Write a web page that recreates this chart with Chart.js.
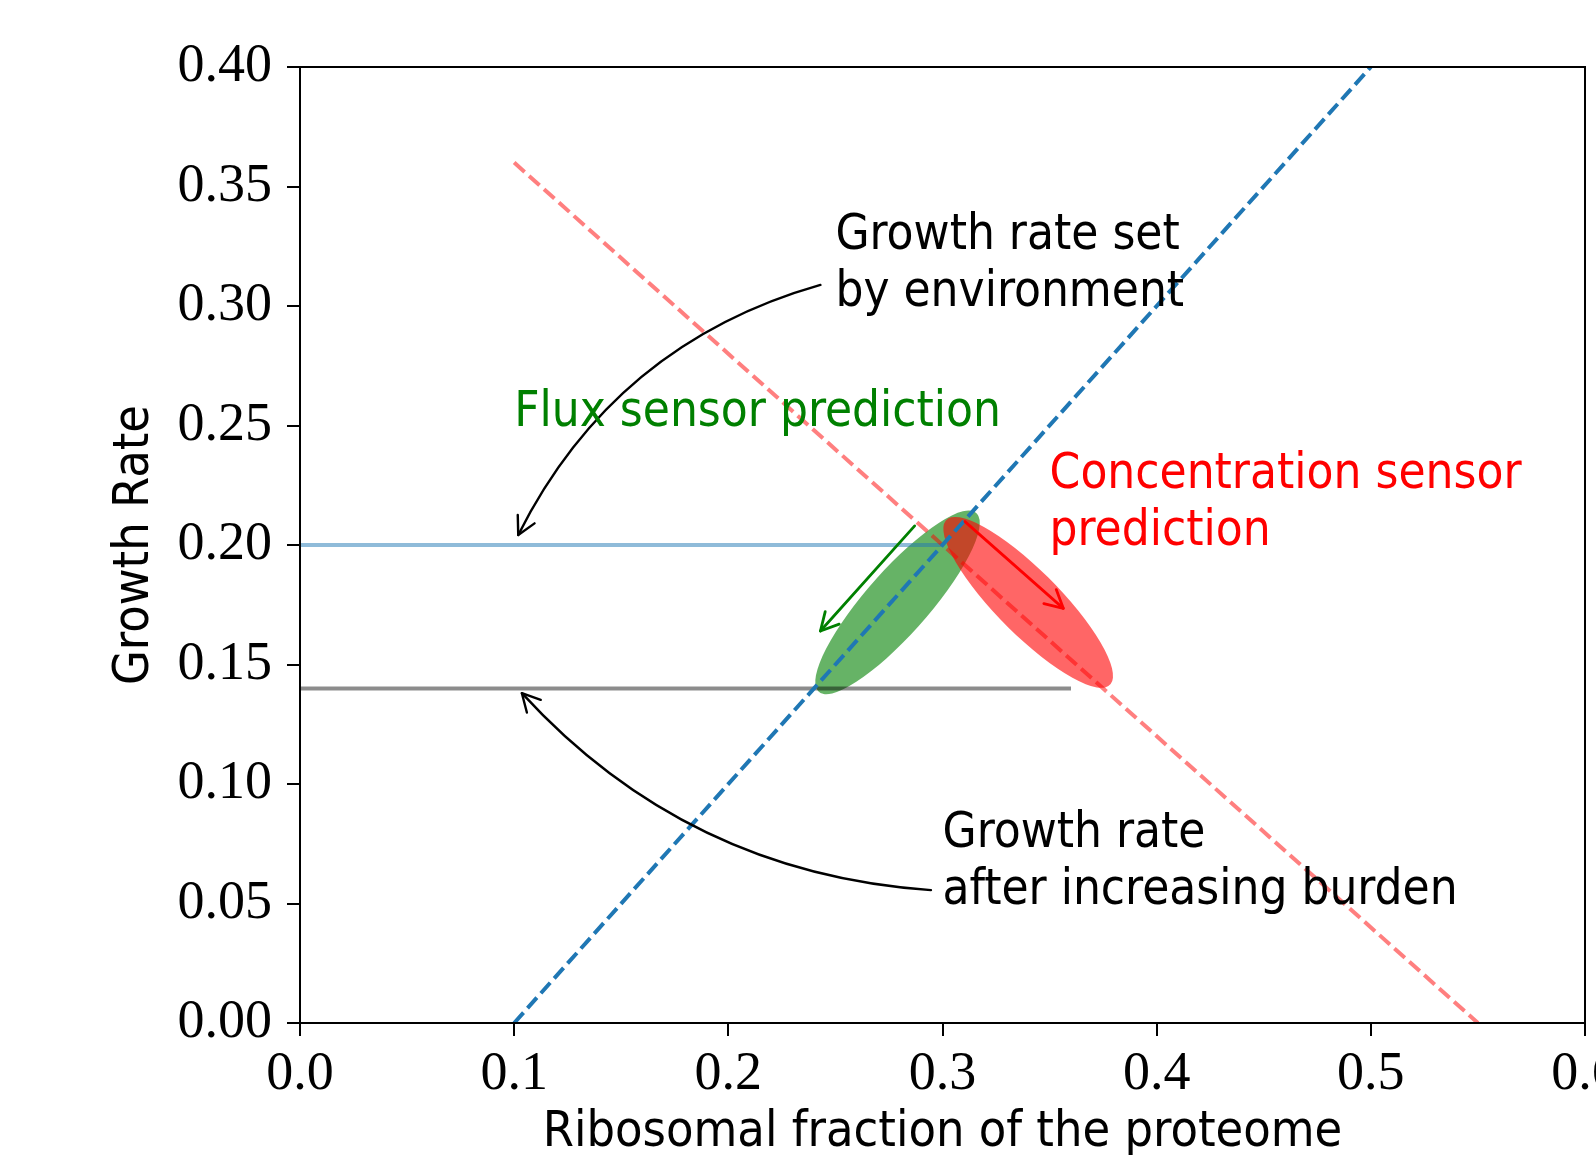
<!DOCTYPE html>
<html>
<head>
<meta charset="utf-8">
<script src="https://cdn.jsdelivr.net/npm/chart.js@4/dist/chart.umd.min.js"></script>
<style>
  html, body { margin: 0; padding: 0; background: #fff; overflow: hidden; }
</style>
</head>
<body>
<canvas id="chart" width="1596" height="1155"></canvas>
<script>
'use strict';
// ---- data ----
const X_TICKS = [0, 0.1, 0.2, 0.3, 0.4, 0.5, 0.6];
const X_TICK_LABELS = ['0.0', '0.1', '0.2', '0.3', '0.4', '0.5', '0.6'];
const Y_TICKS = [0, 0.05, 0.1, 0.15, 0.2, 0.25, 0.3, 0.35, 0.4];
const Y_TICK_LABELS = ['0.00', '0.05', '0.10', '0.15', '0.20', '0.25', '0.30', '0.35', '0.40'];

// growth law lines
const GROWTH_X = [0.1, 0.5],  GROWTH_Y = [0.0, 0.4];    // blue dashed
const CONC_X = [0.1, 0.55],   CONC_Y = [0.36, 0.0];     // red dashed
const ENV_X = [0.0, 0.3],     ENV_Y = [0.2, 0.2];       // rate set by environment
const BURDEN_X = [0.0, 0.36], BURDEN_Y = [0.14, 0.14];  // rate after burden

// prediction ellipses, data units: centre, width, height, angle (deg)
const ELL_CX = [0.279, 0.340];
const ELL_CY = [0.176, 0.176];
const ELL_W = [0.105, 0.103];
const ELL_H = [0.028, 0.028];
const ELL_ANGLE = [45, -41.6];
const ELL_COLOR = ['rgba(0,128,0,0.6)', 'rgba(255,0,0,0.6)'];

// arrows: start -> end in data units, rad = curvature
const ARROW_X0 = [0.287, 0.3105, 0.243, 0.2946];
const ARROW_Y0 = [0.208, 0.2098, 0.3088, 0.0556];
const ARROW_X1 = [0.243, 0.3564, 0.1019, 0.1036];
const ARROW_Y1 = [0.164, 0.1735, 0.2042, 0.138];
const ARROW_RAD = [0, 0, 0.22, -0.2];
const ARROW_COLOR = ['#008000', '#ff0000', '#000', '#000'];
const ARROW_LW = [2.8, 2.8, 2.4, 2.4];

// text notes, anchored at baseline of last line
const NOTE_LINES = [
  ['Growth rate set', 'by environment'],
  ['Flux sensor prediction'],
  ['Concentration sensor', 'prediction'],
  ['Growth rate', 'after increasing burden'],
];
const NOTE_X = [0.25, 0.1, 0.35, 0.3];
const NOTE_Y = [0.30, 0.25, 0.20, 0.05];
const NOTE_COLOR = ['#000', '#008000', '#ff0000', '#000'];

const SANS = "'DejaVu Sans Condensed', 'DejaVu Sans', sans-serif";
const SERIF = "'Liberation Serif', 'DejaVu Serif', serif";
const NOTE_SIZE = 49, NOTE_GAP = 57;

const pts = (xs, ys) => xs.map((x, i) => ({ x, y: ys[i] }));

function drawArrow(ctx, x0, y0, x1, y1, rad, color, lw) {
  const dx = x1 - x0, dy = y1 - y0;
  const cx = (x0 + x1) / 2 - rad * dy, cy = (y0 + y1) / 2 + rad * dx;
  ctx.save();
  ctx.strokeStyle = color; ctx.lineWidth = lw; ctx.lineCap = 'round'; ctx.lineJoin = 'round';
  ctx.beginPath(); ctx.moveTo(x0, y0); ctx.quadraticCurveTo(cx, cy, x1, y1); ctx.stroke();
  const a = Math.atan2(y1 - cy, x1 - cx), L = 20, s = 28 * Math.PI / 180;
  ctx.beginPath();
  ctx.moveTo(x1 - L * Math.cos(a - s), y1 - L * Math.sin(a - s));
  ctx.lineTo(x1, y1);
  ctx.lineTo(x1 - L * Math.cos(a + s), y1 - L * Math.sin(a + s));
  ctx.stroke();
  ctx.restore();
}

const notes = {
  id: 'notes',
  beforeDatasetsDraw(chart) {
    const { ctx, scales: { x, y } } = chart;
    const ox = x.getPixelForValue(0), oy = y.getPixelForValue(0);
    const kx = x.getPixelForValue(1) - ox, ky = y.getPixelForValue(1) - oy;
    ELL_CX.forEach((cx, i) => {
      ctx.save();
      ctx.transform(kx, 0, 0, ky, ox, oy);
      ctx.beginPath();
      ctx.ellipse(cx, ELL_CY[i], ELL_W[i] / 2, ELL_H[i] / 2, ELL_ANGLE[i] * Math.PI / 180, 0, 2 * Math.PI);
      ctx.restore();
      ctx.fillStyle = ELL_COLOR[i];
      ctx.fill();
    });
  },
  afterDatasetsDraw(chart) {
    const { ctx, chartArea: ca, scales: { x, y } } = chart;
    ARROW_X0.forEach((_, i) => {
      drawArrow(ctx,
        x.getPixelForValue(ARROW_X0[i]), y.getPixelForValue(ARROW_Y0[i]),
        x.getPixelForValue(ARROW_X1[i]), y.getPixelForValue(ARROW_Y1[i]),
        ARROW_RAD[i], ARROW_COLOR[i], ARROW_LW[i]);
    });
    ctx.save();
    ctx.font = `${NOTE_SIZE}px ${SANS}`;
    ctx.textBaseline = 'alphabetic'; ctx.textAlign = 'left';
    NOTE_LINES.forEach((lines, i) => {
      ctx.fillStyle = NOTE_COLOR[i];
      const px = x.getPixelForValue(NOTE_X[i]), py = y.getPixelForValue(NOTE_Y[i]);
      lines.forEach((t, j) => ctx.fillText(t, px, py - (lines.length - 1 - j) * NOTE_GAP));
    });
    // axes frame
    ctx.strokeStyle = '#000'; ctx.lineWidth = 2;
    ctx.strokeRect(ca.left, ca.top, ca.right - ca.left, ca.bottom - ca.top);
    ctx.restore();
  },
};

const line = (xs, ys, color, dash, lw) => ({
  data: pts(xs, ys), showLine: true, borderColor: color, borderDash: dash,
  borderWidth: lw, pointRadius: 0, fill: false, tension: 0,
});

new Chart(document.getElementById('chart').getContext('2d'), {
  type: 'scatter',
  data: {
    datasets: [
      line(GROWTH_X, GROWTH_Y, '#1f77b4', [14, 6], 4),
      line(CONC_X, CONC_Y, 'rgba(255,0,0,0.5)', [14, 6], 4),
      line(ENV_X, ENV_Y, 'rgba(31,119,180,0.5)', [], 4),
      line(BURDEN_X, BURDEN_Y, 'rgba(0,0,0,0.45)', [], 4),
    ],
  },
  options: {
    responsive: false, animation: false, devicePixelRatio: 1,
    layout: { padding: { top: 67, right: 11, bottom: 0, left: 0 } },
    plugins: { legend: { display: false }, tooltip: { enabled: false } },
    scales: {
      x: {
        type: 'linear', min: 0, max: 0.6,
        afterBuildTicks: (s) => { s.ticks = X_TICKS.map((v) => ({ value: v })); },
        afterFit: (s) => { s.height = 132; s.paddingLeft = 0; s.paddingRight = 0; },
        ticks: { callback: (v, i) => X_TICK_LABELS[i], autoSkip: false, maxRotation: 0,
          color: '#000', padding: 6, font: { family: SERIF, size: 54 } },
        grid: { drawOnChartArea: false, drawTicks: true, tickLength: 13, color: '#000', lineWidth: 2 },
        border: { display: false },
        title: { display: true, text: 'Ribosomal fraction of the proteome', color: '#000',
          font: { family: SANS, size: 50, lineHeight: 0.8 }, padding: { top: 0, bottom: 2 } },
      },
      y: {
        type: 'linear', min: 0, max: 0.4,
        afterBuildTicks: (s) => { s.ticks = Y_TICKS.map((v) => ({ value: v })); },
        afterFit: (s) => { s.width = 300; },
        ticks: { callback: (v, i) => Y_TICK_LABELS[i], autoSkip: false,
          color: '#000', padding: 15, font: { family: SERIF, size: 54 } },
        grid: { drawOnChartArea: false, drawTicks: true, tickLength: 13, color: '#000', lineWidth: 2 },
        border: { display: false },
        title: { display: true, text: 'Growth Rate', color: '#000',
          font: { family: SANS, size: 50, lineHeight: 1 }, padding: { top: 110, bottom: 0 } },
      },
    },
  },
  plugins: [notes],
});
</script>
</body>
</html>
